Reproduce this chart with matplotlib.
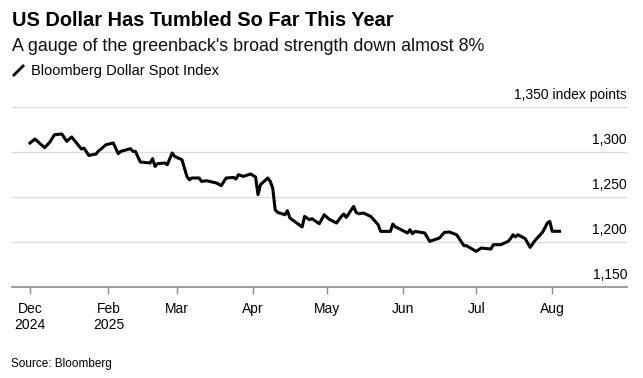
import matplotlib
matplotlib.use("Agg")
import matplotlib.pyplot as plt
import pandas as pd

plt.rcParams['font.family'] = ['Liberation Sans', 'DejaVu Sans']

# Bloomberg Dollar Spot Index
dates = [
    "2024-12-31", "2025-01-02", "2025-01-06", "2025-01-08", "2025-01-10", "2025-01-13",
    "2025-01-15", "2025-01-17", "2025-01-21", "2025-01-22", "2025-01-24", "2025-01-27",
    "2025-01-28", "2025-01-29", "2025-01-31", "2025-02-03", "2025-02-05", "2025-02-06",
    "2025-02-10", "2025-02-11", "2025-02-12", "2025-02-14", "2025-02-18", "2025-02-19",
    "2025-02-20", "2025-02-21", "2025-02-24", "2025-02-25", "2025-02-27", "2025-02-28",
    "2025-03-03", "2025-03-05", "2025-03-06", "2025-03-07", "2025-03-10", "2025-03-11",
    "2025-03-13", "2025-03-17", "2025-03-19", "2025-03-21", "2025-03-24", "2025-03-25",
    "2025-03-26", "2025-03-28", "2025-03-31", "2025-04-02", "2025-04-03", "2025-04-04",
    "2025-04-07", "2025-04-08", "2025-04-09", "2025-04-10", "2025-04-11", "2025-04-14",
    "2025-04-15", "2025-04-16", "2025-04-21", "2025-04-22", "2025-04-24", "2025-04-25",
    "2025-04-28", "2025-04-30", "2025-05-02", "2025-05-05", "2025-05-07", "2025-05-08",
    "2025-05-09", "2025-05-12", "2025-05-13", "2025-05-14", "2025-05-16", "2025-05-19",
    "2025-05-22", "2025-05-23", "2025-05-27", "2025-05-28", "2025-05-29", "2025-05-30",
    "2025-06-03", "2025-06-04", "2025-06-05", "2025-06-06", "2025-06-10", "2025-06-12",
    "2025-06-16", "2025-06-18", "2025-06-20", "2025-06-23", "2025-06-26", "2025-06-27",
    "2025-07-01", "2025-07-03", "2025-07-07", "2025-07-08", "2025-07-11", "2025-07-14",
    "2025-07-15", "2025-07-16", "2025-07-17", "2025-07-18", "2025-07-21", "2025-07-23",
    "2025-07-25", "2025-07-28", "2025-07-29", "2025-07-30", "2025-07-31", "2025-08-01",
    "2025-08-04",
]
values = [
    1310.0, 1314.4, 1304.8, 1310.7, 1319.2, 1320.0,
    1311.8, 1316.7, 1303.3, 1304.4, 1296.2, 1297.8,
    1301.4, 1303.3, 1308.1, 1310.0, 1298.1, 1300.7,
    1303.7, 1300.7, 1300.7, 1288.9, 1287.8, 1292.6,
    1284.0, 1287.0, 1287.8, 1285.9, 1298.9, 1295.1,
    1291.4, 1272.9, 1269.2, 1271.1, 1271.1, 1267.3,
    1268.1, 1265.6, 1262.6, 1271.1, 1271.8, 1270.0,
    1274.8, 1272.9, 1275.6, 1272.2, 1252.6, 1263.7,
    1271.1, 1267.3, 1260.0, 1235.9, 1232.9, 1230.3,
    1234.8, 1226.7, 1216.7, 1228.4, 1224.8, 1225.9,
    1220.3, 1230.3, 1225.3, 1221.1, 1228.4, 1231.1,
    1227.3, 1239.6, 1232.9, 1231.4, 1232.2, 1228.4,
    1219.2, 1211.8, 1211.8, 1220.0, 1216.7, 1215.6,
    1210.0, 1213.7, 1209.2, 1211.8, 1210.0, 1200.7,
    1204.4, 1210.7, 1211.1, 1208.1, 1195.9, 1195.9,
    1189.6, 1193.3, 1192.2, 1197.0, 1197.0, 1200.7,
    1203.7, 1208.1, 1205.6, 1208.1, 1203.7, 1194.0,
    1201.8, 1210.7, 1215.6, 1221.1, 1222.9, 1211.9,
    1211.9,
]

tick_dates = ["2024-12-31", "2025-02-01", "2025-03-01", "2025-04-01",
              "2025-05-01", "2025-06-01", "2025-07-01", "2025-08-01"]
tick_labels = ["Dec\n2024", "Feb\n2025", "Mar", "Apr", "May", "Jun", "Jul", "Aug"]
y_levels = [1150, 1200, 1250, 1300, 1350]
y_labels = ["1,150", "1,200", "1,250", "1,300", "1,350 index points"]

W, H = 643, 378
fig = plt.figure(figsize=(W / 100, H / 100), dpi=100)

# axes box in pixels: left 12, right 627, top 107, bottom 287
ax = fig.add_axes([12 / W, 1 - 287 / H, 615 / W, 180 / H])

for v in y_levels[1:]:
    ax.axhline(v, color="#dcdcdc", lw=1, zorder=1)

ax.plot(pd.to_datetime(dates), values, color="black", lw=2.2,
        solid_joinstyle="round", zorder=3)

ax.set_xlim(pd.Timestamp("2024-12-23 16:00"), pd.Timestamp("2025-08-31 12:00"))
ax.set_ylim(1150, 1350)

for s in ["top", "right", "left"]:
    ax.spines[s].set_visible(False)
ax.spines["bottom"].set_color("#8c8c8c")
ax.spines["bottom"].set_linewidth(1.2)
ax.set_yticks([])

ax.set_xticks(pd.to_datetime(tick_dates))
ax.set_xticklabels(tick_labels, fontsize=10, linespacing=1.15)
ax.tick_params(axis="x", length=5, width=1, color="#8c8c8c", pad=6)

for v, lab in zip(y_levels, y_labels):
    ax.annotate(lab, xy=(1.0, v), xycoords=ax.get_yaxis_transform(),
                xytext=(0, 6), textcoords="offset points",
                ha="right", va="baseline", fontsize=10)

fig.text(12 / W, 1 - 26 / H, "US Dollar Has Tumbled So Far This Year",
         fontsize=14.4, fontweight="bold", va="baseline", ha="left")
fig.text(12 / W, 1 - 51 / H, "A gauge of the greenback's broad strength down almost 8%",
         fontsize=12.85, va="baseline", ha="left", color="#111111")

# legend entry
fig.add_artist(plt.Line2D([13 / W, 24 / W], [1 - 76 / H, 1 - 65 / H],
                          color="black", lw=2.0, solid_capstyle="butt"))
fig.text(31 / W, 1 - 75 / H, "Bloomberg Dollar Spot Index",
         fontsize=10.5, va="baseline", ha="left")

fig.text(11 / W, 1 - 367 / H, "Source: Bloomberg", fontsize=8.5,
         va="baseline", ha="left")

fig.savefig("out.png", dpi=100)
